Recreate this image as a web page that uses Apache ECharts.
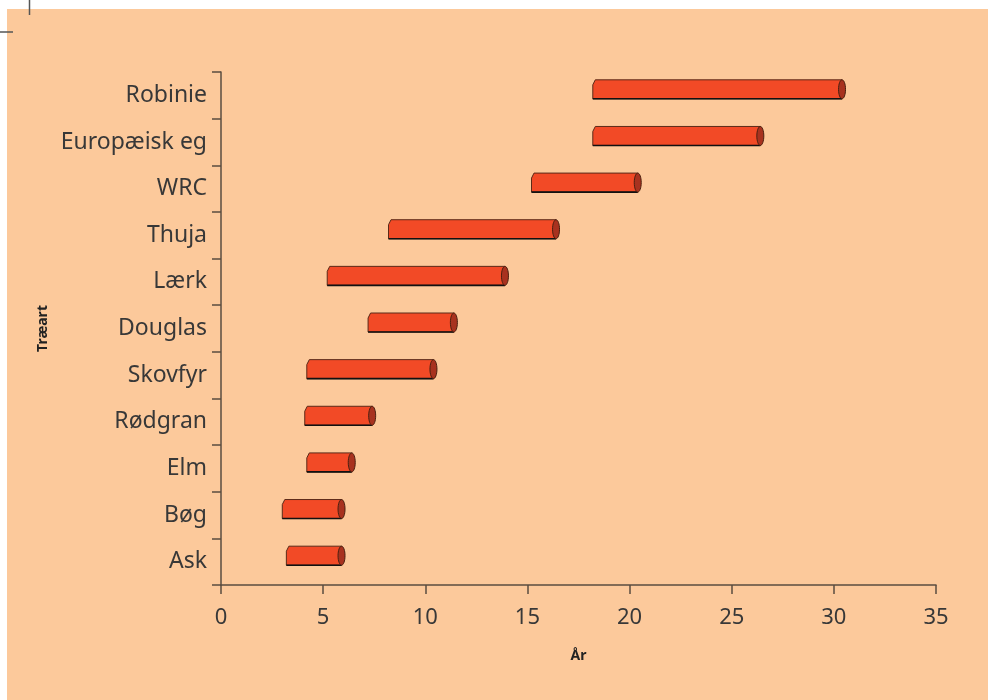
<!DOCTYPE html>
<html>
<head>
<meta charset="utf-8">
<script src="https://cdn.jsdelivr.net/npm/echarts@6/dist/echarts.min.js"></script>
<style>html,body{margin:0;padding:0;background:#fff}#c{width:988px;height:700px}</style>
</head>
<body>
<div id="c"></div>
<script>
var categories = ['Ask', 'Bøg', 'Elm', 'Rødgran', 'Skovfyr', 'Douglas', 'Lærk', 'Thuja', 'WRC', 'Europæisk eg', 'Robinie'];
var startYears = [3.2, 3.0, 4.2, 4.1, 4.2, 7.2, 5.2, 8.2, 15.2, 18.2, 18.2];
var endYears   = [5.9, 5.9, 6.4, 7.4, 10.4, 11.4, 13.9, 16.4, 20.4, 26.4, 30.4];
var xTicks = [0, 5, 10, 15, 20, 25, 30, 35];

var data = categories.map(function (c, i) { return [i, startYears[i], endYears[i]]; });

var chart = echarts.init(document.getElementById('c'), null, { renderer: 'canvas' });
var axisColor = '#5a4c40';
var textColor = '#383838';
var fontFam = '"Noto Sans", "DejaVu Sans", sans-serif';

chart.setOption({
  backgroundColor: '#ffffff',
  animation: false,
  graphic: [
    { type: 'rect', z: -10, silent: true, shape: { x: 7, y: 9, width: 981, height: 691 }, style: { fill: '#fcc99b' } },
    { type: 'line', silent: true, shape: { x1: 29.5, y1: 0, x2: 29.5, y2: 15 }, style: { stroke: '#555', lineWidth: 1.5 } },
    { type: 'line', silent: true, shape: { x1: 0, y1: 32, x2: 13, y2: 32 }, style: { stroke: '#555', lineWidth: 1.5 } }
  ],
  grid: { left: 221, right: 52, top: 72, bottom: 115, containLabel: false },
  xAxis: {
    type: 'value', min: 0, max: 35, interval: 5,
    name: 'År', nameLocation: 'middle', nameGap: 64,
    nameTextStyle: { color: '#222', fontSize: 14, fontWeight: 'bold', fontFamily: fontFam },
    axisLine: { show: true, lineStyle: { color: axisColor, width: 1.5 } },
    axisTick: { show: true, length: 9, lineStyle: { color: axisColor, width: 1.5 } },
    axisLabel: { color: textColor, fontSize: 22, margin: 22, fontFamily: fontFam,
      formatter: function (v) { return xTicks.indexOf(v) >= 0 ? String(v) : ''; } },
    splitLine: { show: false }
  },
  yAxis: {
    type: 'category', data: categories,
    name: 'Træart', nameLocation: 'middle', nameGap: 168, nameRotate: 90,
    nameTextStyle: { color: '#222', fontSize: 14, fontWeight: 'bold', fontFamily: fontFam },
    axisLine: { show: true, lineStyle: { color: axisColor, width: 1.5 } },
    axisTick: { show: true, length: 9, lineStyle: { color: axisColor, width: 1.5 } },
    axisLabel: { color: textColor, fontSize: 23, margin: 14, fontFamily: fontFam, padding: [3, 0, 0, 0] },
    splitLine: { show: false }
  },
  series: [{
    type: 'custom',
    data: data,
    encode: { y: 0, x: [1, 2] },
    renderItem: function (params, api) {
      var cat = api.value(0), s = api.value(1), e = api.value(2);
      var p0 = api.coord([s, cat]);
      var p1 = api.coord([e, cat]);
      var h = 19;
      var yc = p0[1] - 6;
      var top = yc - h / 2, bot = yc + h / 2;
      var x0 = p0[0], x1 = p1[0];
      return {
        type: 'group',
        children: [
          { type: 'polygon', shape: { points: [[x0 + 2.5, top], [x1, top], [x1, bot], [x0, bot], [x0, top + 5]] },
            style: { fill: '#f24a26', stroke: '#5a2a18', lineWidth: 1 } },
          { type: 'line', shape: { x1: x0, y1: bot, x2: x1, y2: bot }, style: { stroke: '#111', lineWidth: 1.6 } },
          { type: 'ellipse', shape: { cx: x1, cy: yc, rx: 3.5, ry: h / 2 },
            style: { fill: '#a8321f', stroke: '#4a2010', lineWidth: 1 } }
        ]
      };
    }
  }]
});
</script>
</body>
</html>
